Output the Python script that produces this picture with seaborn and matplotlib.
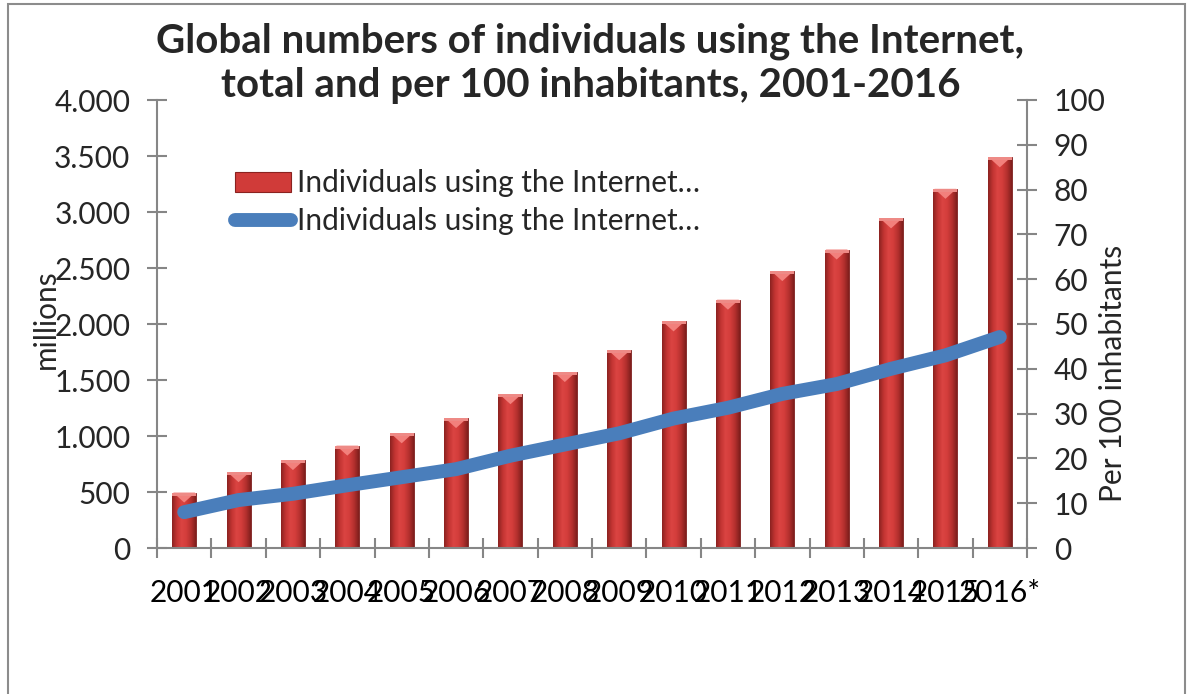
import numpy as np
import pandas as pd
import matplotlib
matplotlib.use("Agg")
import matplotlib.pyplot as plt
import seaborn as sns
from matplotlib.patches import Rectangle, Polygon
from matplotlib.lines import Line2D
from matplotlib.ticker import FuncFormatter, FixedLocator
from matplotlib.colors import LinearSegmentedColormap

# Data
years = ["2001", "2002", "2003", "2004", "2005", "2006", "2007", "2008",
         "2009", "2010", "2011", "2012", "2013", "2014", "2015", "2016*"]
users_millions = [495, 677, 785, 914, 1024, 1160, 1373, 1571,
                  1766, 2023, 2217, 2472, 2665, 2943, 3207, 3488]
users_per_100 = [8.0, 10.7, 12.1, 14.0, 15.8, 17.6, 20.6, 23.1,
                 25.6, 28.9, 31.3, 34.4, 36.6, 40.0, 43.0, 47.1]

title_text = "Global numbers of individuals using the Internet,\ntotal and per 100 inhabitants, 2001-2016"
legend_labels = ["Individuals using the Internet\u2026", "Individuals using the Internet\u2026"]

df = pd.DataFrame({"year": years, "millions": users_millions, "per100": users_per_100})

sns.set_style("white")
plt.rcParams["font.family"] = ["Lato", "DejaVu Sans"]

AXIS_GRAY = "#868686"
LINE_BLUE = "#4A7EBB"
FS = 21.5

fig = plt.figure(figsize=(11.88, 6.94), dpi=100)
ax = fig.add_axes([157 / 1188, 1 - 548 / 694, 870 / 1188, 448 / 694])

sns.barplot(data=df, x="year", y="millions", ax=ax, color="#C0392B",
            width=0.44, saturation=1, edgecolor="#7A1F1F", linewidth=0.6, zorder=2)

# shaded, bevelled look for each bar
bar_cmap = LinearSegmentedColormap.from_list(
    "barshade", ["#8A2220", "#C23432", "#DB4442", "#D33D3B", "#B3302E", "#7E1E1C"])
grad = np.linspace(0, 1, 256).reshape(1, -1)
px_per_unit = 448 / 4000
for p in ax.patches:
    x0, y0 = p.get_x(), p.get_y()
    w, h = p.get_width(), p.get_height()
    im = ax.imshow(grad, cmap=bar_cmap, aspect="auto",
                   extent=[x0, x0 + w, y0, y0 + h], zorder=2.1)
    im.set_clip_path(p)
    d = 10 / px_per_unit
    tri = Polygon([[x0 + 0.04 * w, y0 + h], [x0 + 0.96 * w, y0 + h], [x0 + w / 2, y0 + h - d]],
                  closed=True, facecolor="#F2807C", edgecolor="none", zorder=2.2)
    ax.add_patch(tri)
    ax.add_patch(Rectangle((x0, y0 + h - 3 / px_per_unit), w, 3 / px_per_unit,
                           facecolor="#EE8A86", edgecolor="none", zorder=2.2))

ax.set_xlim(-0.5, len(years) - 0.5)
ax.set_ylim(0, 4000)
ax.set_yticks(np.arange(0, 4001, 500))
ax.yaxis.set_major_formatter(FuncFormatter(lambda v, _: f"{v:,.0f}".replace(",", ".")))

# category labels at centres, tick marks on category boundaries
ax.set_xticks(range(len(years)))
ax.set_xticklabels(years)
ax.xaxis.set_minor_locator(FixedLocator(np.arange(-0.5, len(years), 1.0)))
ax.tick_params(axis="x", which="major", length=0, pad=22, labelsize=FS, labelcolor="black")
ax.tick_params(axis="x", which="minor", direction="inout", length=14.4, width=1.5,
               color=AXIS_GRAY, bottom=True)
ax.tick_params(axis="y", which="major", direction="inout", length=14.4, width=1.5,
               color=AXIS_GRAY, labelsize=FS, pad=12, left=True)

ax.set_xlabel("")
ax.set_ylabel("millions", fontsize=FS)
ax.yaxis.set_label_coords(-0.112, 0.51)

for side in ["top", "right"]:
    ax.spines[side].set_visible(False)
for side in ["left", "bottom"]:
    ax.spines[side].set_color(AXIS_GRAY)
    ax.spines[side].set_linewidth(1.5)

# per-100 line on the secondary axis
ax2 = ax.twinx()
sns.lineplot(data=df, x="year", y="per100", ax=ax2, color=LINE_BLUE,
             linewidth=10, sort=False, zorder=3)
for ln in ax2.lines:
    ln.set_solid_capstyle("round")
    ln.set_solid_joinstyle("round")
ax2.set_ylim(0, 100)
ax2.set_yticks(np.arange(0, 101, 10))
ax2.tick_params(axis="y", direction="inout", length=14.4, width=1.5,
                color=AXIS_GRAY, labelsize=FS, pad=12, right=True)
ax2.set_ylabel("Per 100 inhabitants", fontsize=FS)
ax2.yaxis.set_label_coords(1.083, 0.39)
ax2.set_xlabel("")
for side in ["top", "left", "bottom"]:
    ax2.spines[side].set_visible(False)
ax2.spines["right"].set_color(AXIS_GRAY)
ax2.spines["right"].set_linewidth(1.5)

handles = [Rectangle((0, 0), 1, 1, facecolor="#D03B39", edgecolor="#8A2220", linewidth=0.8),
           Line2D([0], [0], color=LINE_BLUE, linewidth=10, solid_capstyle="round")]
ax2.legend(handles, legend_labels, loc="upper left", bbox_to_anchor=(0.09, 0.845),
           frameon=False, fontsize=FS, handlelength=1.85, handletextpad=0.2,
           borderaxespad=0, borderpad=0, labelspacing=0.32)

fig.suptitle(title_text, x=0.497, y=0.968, fontsize=29, fontweight="bold",
             linespacing=1.24, va="top")

# outer chart frame
fig.add_artist(Rectangle((8 / 1188, -0.05), 1177 / 1188, 1.05 - 4 / 694,
                         transform=fig.transFigure, fill=False,
                         edgecolor="#8C8C8C", linewidth=1.5))

fig.savefig("out.png", dpi=100)
